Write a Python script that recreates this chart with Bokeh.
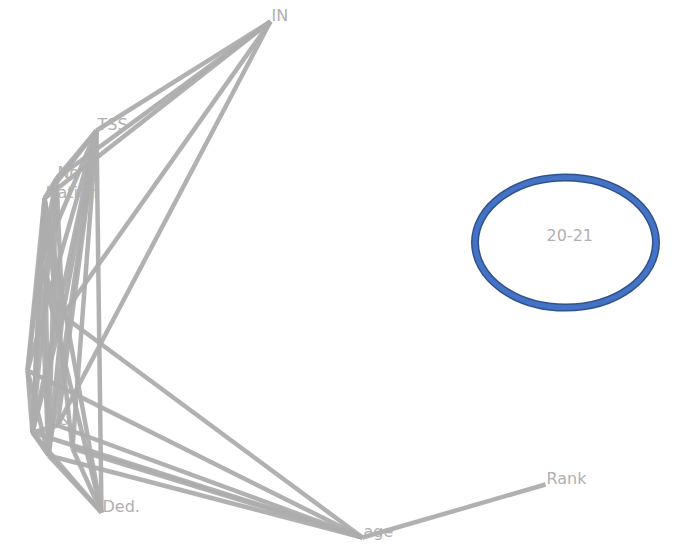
from bokeh.plotting import figure
from bokeh.models import Range1d, ColumnDataSource
from bokeh.core.properties import value
from bokeh.embed import file_html
from bokeh.resources import INLINE

# Node layout (network coordinates)
node_names = ["IN", "TSS", "No", "Nation", "L1", "M", "L2", "L3", "&", "L4", "L5", "Ded.", "age", "Rank", "20-21"]
node_labels = ["IN", "TSS", "No", "Nation", "", "", "", "", "&", "", "", "Ded.", "age", "Rank", "20-21"]
node_x = [270, 96, 56, 44, 40, 62, 27, 32, 57, 48, 72, 101, 362, 545, 545]
node_y = [21, 130, 178, 198, 262, 315, 370, 432, 425, 455, 448, 512, 537, 484, 240]

edge_src = ["IN", "IN", "IN", "IN", "IN",
            "TSS", "TSS", "TSS", "TSS", "TSS", "TSS", "TSS", "TSS", "TSS", "TSS",
            "No", "No", "No", "No", "No",
            "Nation", "Nation", "Nation", "Nation", "Nation", "Nation", "Nation",
            "L1", "L1", "L1", "L1", "L1",
            "M", "M", "M",
            "L2", "L2", "L2",
            "L3", "L3", "L3", "L3",
            "&", "L4", "L5", "L4", "L5",
            "age"]
edge_dst = ["TSS", "No", "Nation", "M", "&",
            "No", "Nation", "L1", "M", "L2", "L3", "L4", "Ded.", "L5", "&",
            "Nation", "L1", "L3", "L4", "M",
            "L1", "L2", "L3", "L4", "M", "Ded.", "L5",
            "L2", "L3", "L4", "M", "Ded.",
            "L3", "L4", "age",
            "L3", "L4", "age",
            "L4", "&", "age", "Ded.",
            "age", "age", "age", "Ded.", "Ded.",
            "Rank"]

idx = {n: i for i, n in enumerate(node_names)}
xs = [[node_x[idx[a]], node_x[idx[b]]] for a, b in zip(edge_src, edge_dst)]
ys = [[node_y[idx[a]], node_y[idx[b]]] for a, b in zip(edge_src, edge_dst)]

p = figure(width=676, height=546, output_backend="svg", toolbar_location=None,
           x_range=Range1d(0, 676), y_range=Range1d(546, 0),
           x_axis_location=None, y_axis_location=None, min_border=0)
p.grid.visible = False
p.outline_line_color = None
p.background_fill_color = "white"

p.multi_line(xs=xs, ys=ys, line_color="#adadad", line_width=4.5, line_alpha=0.95)

src = ColumnDataSource(dict(x=node_x, y=node_y, t=node_labels))
p.text(x="x", y="y", text="t", source=src, text_font=value("DejaVu Sans"),
       text_font_size="16px", text_color="#b0b0b0", text_align="left",
       text_baseline="alphabetic", x_offset=1, y_offset=-6)

# highlight ellipse around isolated node
hx, hy = [565], [242]
p.ellipse(x=hx, y=hy, width=181, height=130, fill_color=None,
          line_color="#2F528F", line_width=8)
p.ellipse(x=hx, y=hy, width=181, height=130, fill_color=None,
          line_color="#4472C4", line_width=5)

open("out.html", "w").write(file_html(p, INLINE))
